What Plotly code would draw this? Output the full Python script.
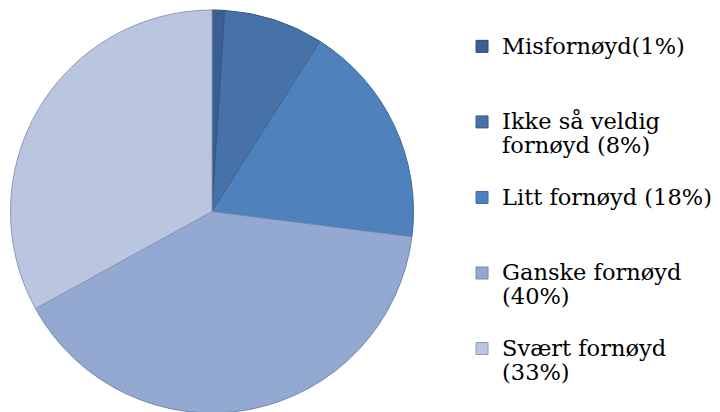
import plotly.graph_objects as go

names = ["Misfornøyd(1%)", "Ikke så veldig<br>fornøyd (8%)", "Litt fornøyd (18%)",
         "Ganske fornøyd<br>(40%)", "Svært fornøyd<br>(33%)"]
values = [1, 8, 18, 40, 33]
colors = ["#3a5f92", "#4672a8", "#4f81bd", "#94a9d1", "#bac6df"]
line_colors = ["#2e4c75", "#36598a", "#3f6a9c", "#7287ae", "#8c9bb8"]


def pad_label(n):
    lines = n.count("<br>") + 1
    span = '<span style="font-size:22.5px">'
    body = span + n.replace("<br>", "</span><br>" + span) + "</span>"
    return body + "<br> " * (3 - lines)


labels = [pad_label(n) for n in names]

fig = go.Figure(go.Pie(
    labels=labels, values=values, sort=False, direction="clockwise", rotation=0,
    textinfo="none", hoverinfo="value",
    marker=dict(colors=colors, line=dict(color=line_colors, width=1)),
    domain=dict(x=[2/720, 406/720], y=[7/412, 410/412]),
))
fig.update_layout(
    width=720, height=412, margin=dict(l=0, r=0, t=0, b=0),
    paper_bgcolor="white", plot_bgcolor="white",
    showlegend=True,
    legend=dict(x=0.6306, y=0.952, xanchor="left", yanchor="top", valign="top",
                font=dict(family="DejaVu Serif", size=18.6, color="#000000"),
                itemwidth=30, tracegroupgap=0),
)
fig.write_html("out.html")
